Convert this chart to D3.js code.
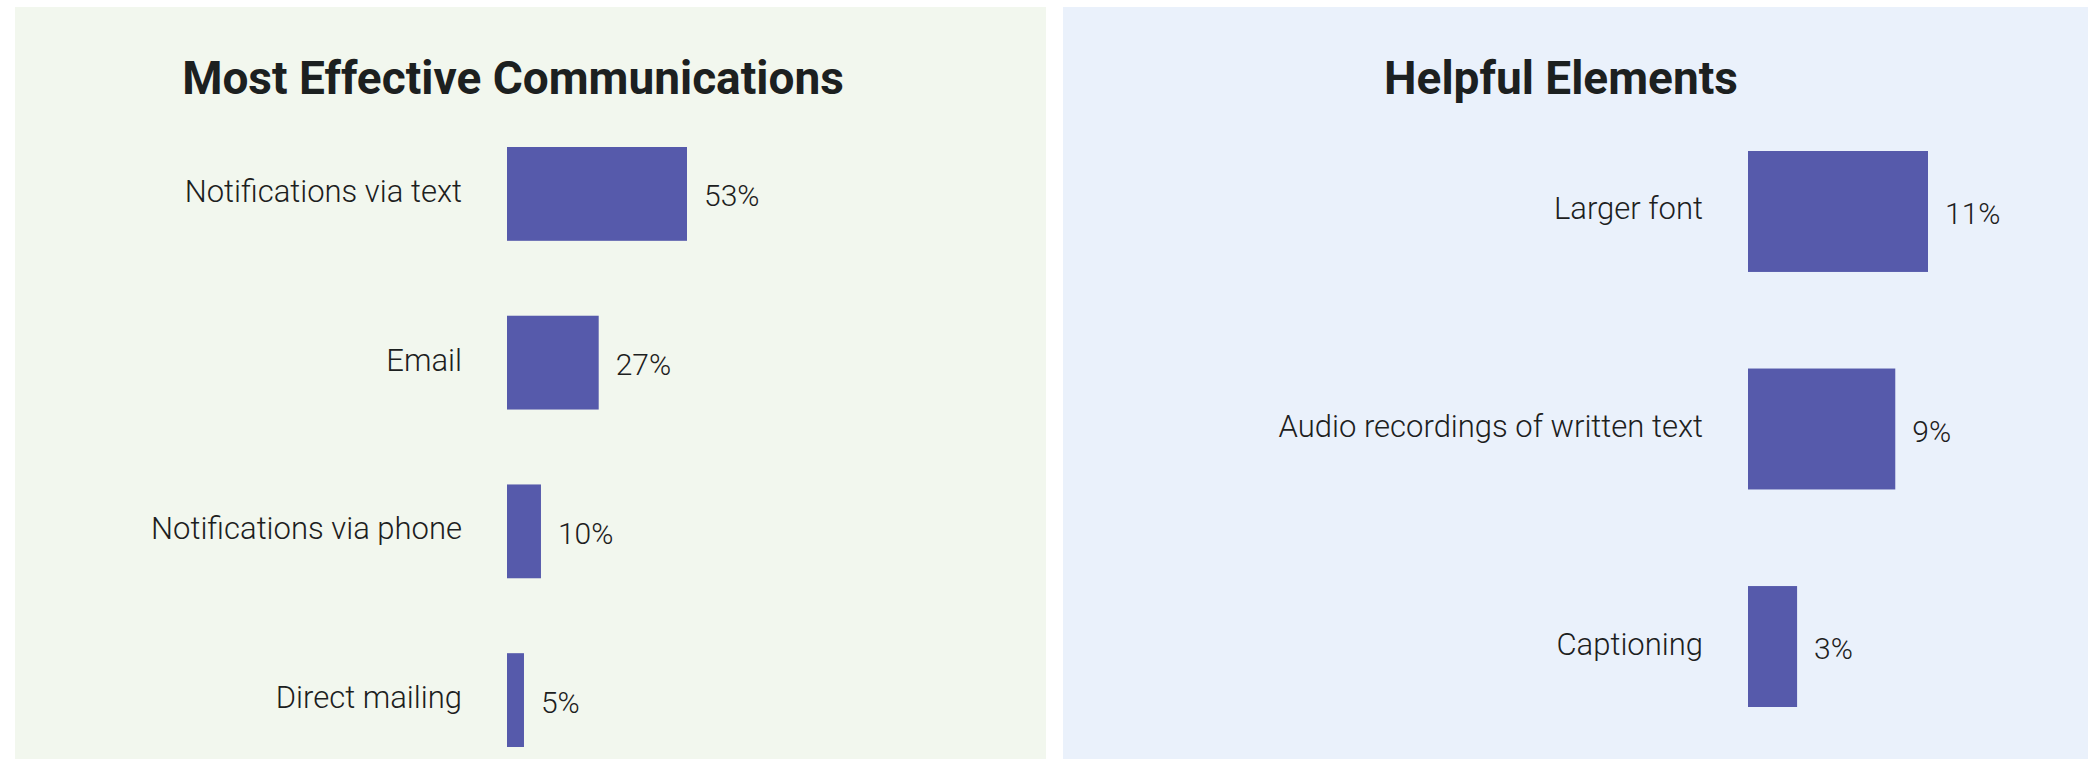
<!DOCTYPE html>
<html>
<head>
<meta charset="utf-8">
<script src="https://cdn.jsdelivr.net/npm/d3@7"></script>
<style>
  html, body { margin: 0; padding: 0; background: #ffffff; }
  svg { display: block; }
</style>
</head>
<body>
<svg id="chart"></svg>
<script>
var commCategories = ["Notifications via text", "Email", "Notifications via phone", "Direct mailing"];
var commValues = [53, 27, 10, 5];

var helpCategories = ["Larger font", "Audio recordings of written text", "Captioning"];
var helpValues = [11, 9, 3];

var width = 2088, height = 759;
var barColor = "#565aab";
var textColor = "#1c2020";

var svg = d3.select("#chart")
            .attr("width", width)
            .attr("height", height);

function drawPanel(opts) {
  var g = svg.append("g");

  g.append("rect")
    .attr("x", opts.x0)
    .attr("y", 7)
    .attr("width", opts.x1 - opts.x0)
    .attr("height", height - 7)
    .attr("fill", opts.bg);

  g.append("text")
    .attr("x", opts.titleX)
    .attr("y", 94)
    .attr("text-anchor", "middle")
    .attr("font-family", "Roboto, sans-serif")
    .attr("font-weight", 700)
    .attr("font-size", "46px")
    .attr("fill", textColor)
    .text(opts.title);

  var data = opts.categories.map((c, i) => ({ name: c, value: opts.values[i] }));

  var y = d3.scaleBand()
            .domain(opts.categories)
            .range(opts.yRange)
            .paddingInner(0.444)
            .paddingOuter(0);

  var x = d3.scaleLinear()
            .domain([0, d3.max(opts.values)])
            .range([opts.barX, opts.barX + 180]);

  g.selectAll(".bar")
    .data(data)
    .enter()
      .append("rect")
      .classed("bar", true)
      .attr("x", x(0))
      .attr("y", d => y(d.name))
      .attr("width", d => x(d.value) - x(0))
      .attr("height", y.bandwidth())
      .attr("fill", barColor);

  // category names, right aligned against the bars
  g.selectAll(".cat")
    .data(data)
    .enter()
      .append("text")
      .classed("cat", true)
      .attr("x", x(0) - 45)
      .attr("y", d => y(d.name) + y.bandwidth() / 2 + 8)
      .attr("text-anchor", "end")
      .attr("font-family", "Roboto, sans-serif")
      .attr("font-weight", 300)
      .attr("font-size", "31px")
      .attr("fill", textColor)
      .text(d => d.name);

  g.selectAll(".val")
    .data(data)
    .enter()
      .append("text")
      .classed("val", true)
      .attr("x", d => x(d.value) + 17)
      .attr("y", d => y(d.name) + y.bandwidth() / 2 + 12.5)
      .attr("font-family", "Roboto, sans-serif")
      .attr("font-weight", 300)
      .attr("font-size", "30px")
      .attr("fill", textColor)
      .text(d => d.value + "%");
}

drawPanel({
  x0: 15, x1: 1046, bg: "#f2f7ee",
  title: "Most Effective Communications", titleX: 513,
  categories: commCategories, values: commValues,
  yRange: [147, 747], barX: 507
});

drawPanel({
  x0: 1063, x1: 2088, bg: "#eaf1fb",
  title: "Helpful Elements", titleX: 1561,
  categories: helpCategories, values: helpValues,
  yRange: [151, 707], barX: 1748
});
</script>
</body>
</html>
